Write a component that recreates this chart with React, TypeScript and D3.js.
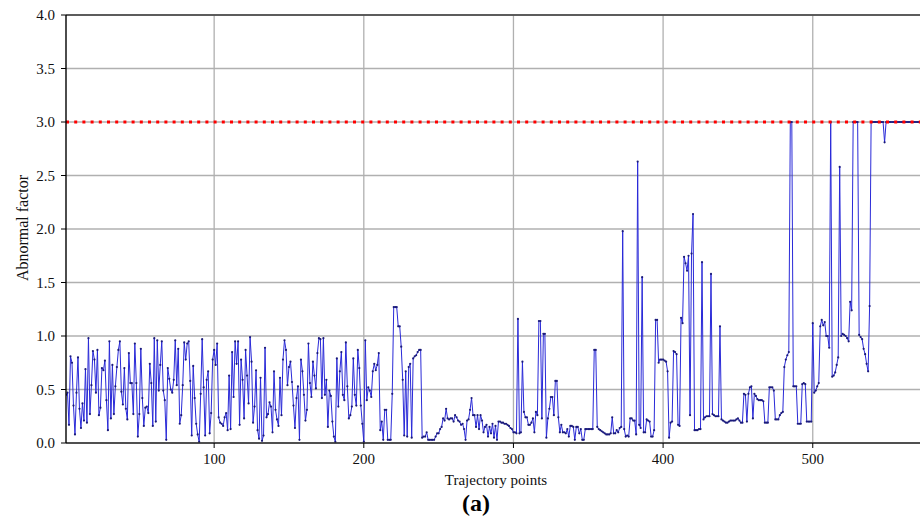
import React from 'react';
import { scaleLinear, line } from 'd3';

// abnormal factor per trajectory point
const earlyFactors = [
  0.45, 0.47, 0.17, 0.81, 0.75, 0.35, 0.08, 0.47, 0.8, 0.32,
  0.14, 0.37, 0.21, 0.69, 0.19, 0.98, 0.27, 0.54, 0.86, 0.78,
  0.47, 0.87, 0.26, 0.33, 0.7, 0.68, 0.77, 0.4, 0.12, 0.95,
  0.23, 0.73, 0.27, 0.53, 0.71, 0.87, 0.95, 0.48, 0.36, 0.7,
  0.32, 0.22, 0.84, 0.56, 0.56, 0.27, 0.93, 0.56, 0.06, 0.27,
  0.88, 0.42, 0.16, 0.33, 0.34, 0.28, 0.74, 0.56, 0.16, 0.98,
  0.2, 0.96, 0.49, 0.73, 0.95, 0.49, 0.4, 0.03, 0.7, 0.6,
  0.5, 0.47, 0.59, 0.96, 0.54, 0.88, 0.18, 0.26, 0.54, 0.94,
  0.78, 0.93, 0.95, 0.58, 0.07, 0.72, 0.42, 0.18, 0.08, 0.01,
  0.46, 0.97, 0.52, 0.07, 0.59, 0.67, 0.09, 0.28, 0.78, 0.87,
  0.73, 0.93, 0.24, 0.19, 0.18, 0.16, 0.24, 0.28, 0.12, 0.63,
  0.13, 0.85, 0.43, 0.95, 0.74, 0.95, 0.17, 0.78, 0.59, 0.23,
  0.87, 0.63, 0.37, 0.99, 0.76, 0.19, 0.34, 0.68, 0.12, 0.04,
  0.61, 0.02, 0.07, 0.89, 0.24, 0.27, 0.38, 0.34, 0.1, 0.67,
  0.31, 0.22, 0.16, 0.61, 0.26, 0.78, 0.96, 0.87, 0.54, 0.71,
  0.76, 0.57, 0.35, 0.14, 0.42, 0.53, 0.03, 0.78, 0.67, 0.45,
  0.21, 0.31, 0.93, 0.56, 0.43, 0.76, 0.63, 0.51, 0.84, 0.98,
];

const middleFactors = [
  0.97, 0.42, 0.98, 0.45, 0.59, 0.15, 0.49, 0.44, 0.2, 0.06,
  0.01, 0.79, 0.34, 0.67, 0.85, 0.45, 0.4, 0.94, 0.53, 0.23,
  0.26, 0.34, 0.79, 0.45, 0.35, 0.87, 0.7, 0.35, 0.18, 0.01,
  0.96, 0.4, 0.52, 0.49, 0.43, 0.67, 0.74, 0.68, 0.73, 0.84,
  0.12, 0.2, 0.03, 0.31, 0.31, 0.03, 0.03, 0.03, 0.46, 1.27,
  1.27, 1.27, 1.09, 1.09, 0.9, 0.59, 0.07, 0.67, 0.06, 0.71,
  0.74, 0.05, 0.79, 0.81, 0.82, 0.85, 0.87, 0.87, 0.05, 0.06,
  0.06, 0.1, 0.03, 0.03, 0.03, 0.03, 0.03, 0.06, 0.09, 0.09,
  0.13, 0.15, 0.23, 0.21, 0.32, 0.23, 0.22, 0.23, 0.23, 0.2,
  0.26, 0.24, 0.21, 0.2, 0.17, 0.18, 0.13, 0.03, 0.21, 0.22,
  0.31, 0.42, 0.26, 0.26, 0.15, 0.26, 0.13, 0.26, 0.21, 0.1,
  0.15, 0.17, 0.06, 0.15, 0.09, 0.18, 0.05, 0.16, 0.03, 0.2,
  0.2, 0.19, 0.19, 0.18, 0.18, 0.17, 0.16, 0.14, 0.13, 0.1,
  0.1, 0.09, 1.16, 0.09, 0.1, 0.76, 0.29, 0.24, 0.24, 0.17,
  0.17, 0.19, 0.23, 0.1, 0.29, 0.26, 1.14, 1.14, 0.23, 1.02,
  1.02, 0.05, 0.23, 0.32, 0.43, 0.43, 0.26, 0.58, 0.58, 0.24,
  0.1, 0.17, 0.1, 0.1, 0.09, 0.13, 0.06, 0.16, 0.16, 0.15,
  0.03, 0.15, 0.15, 0.09, 0.13, 0.03, 0.03, 0.13, 0.13, 0.13,
  0.13, 0.13, 0.13, 0.87, 0.87, 0.15, 0.13, 0.12, 0.11, 0.1,
  0.09, 0.08, 0.08, 0.08, 0.09, 0.24, 0.09, 0.09, 0.12, 0.1,
];

const lateFactors = [
  0.14, 0.15, 1.98, 0.13, 0.06, 0.07, 0.06, 0.23, 0.23, 0.21,
  0.21, 0.08, 2.63, 0.17, 0.14, 1.55, 0.1, 0.1, 0.22, 0.21,
  0.2, 0.06, 0.06, 0.12, 1.15, 1.15, 0.75, 0.78, 0.78, 0.78,
  0.77, 0.76, 0.67, 0.05, 0.19, 0.2, 0.86, 0.85, 0.83, 0.17,
  0.16, 1.17, 1.12, 1.74, 1.68, 1.61, 1.75, 0.26, 1.77, 2.14,
  0.12, 0.12, 0.12, 0.13, 0.13, 1.69, 0.22, 0.24, 0.25, 0.25,
  0.25, 1.58, 0.27, 0.26, 0.25, 0.25, 0.25, 1.09, 0.22, 0.21,
  0.2, 0.19, 0.19, 0.2, 0.21, 0.21, 0.21, 0.21, 0.22, 0.23,
  0.21, 0.19, 0.19, 0.46, 0.45, 0.2, 0.46, 0.52, 0.53, 0.23,
  0.46, 0.44, 0.41, 0.4, 0.4, 0.4, 0.39, 0.19, 0.19, 0.19,
  0.52, 0.52, 0.52, 0.49, 0.22, 0.22, 0.22, 0.26, 0.28, 0.29,
  0.71, 0.78, 0.82, 0.85, 3.0, 3.0, 0.53, 0.53, 0.53, 0.18,
  0.18, 0.18, 0.55, 0.56, 0.55, 0.2, 0.2, 0.2, 0.2, 1.12,
  0.47, 0.49, 0.53, 0.56, 1.09, 1.15, 1.1, 1.13, 1.0, 1.0,
  0.89, 3.0, 0.62, 0.63, 0.66, 0.73, 0.8, 2.58, 1.0, 1.02,
  1.01, 1.0, 0.98, 0.95, 1.32, 1.24, 3.0, 3.0, 3.0, 3.0,
  1.01, 0.99, 0.97, 0.88, 0.83, 0.74, 0.67, 1.28, 3.0, 3.0,
  3.0, 3.0, 3.0, 3.0, 3.0, 3.0, 3.0, 2.81, 3.0, 3.0,
  3.0, 3.0, 3.0, 3.0, 3.0, 3.0, 3.0, 3.0, 3.0, 3.0,
  3.0, 3.0, 3.0, 3.0, 3.0, 3.0, 3.0, 3.0, 3.0, 3.0, 3.0, 3.0,
];

const abnormalFactors = [...earlyFactors, ...middleFactors, ...lateFactors];
const xTicks = [100, 200, 300, 400, 500];
const yTicks = [0, 0.5, 1, 1.5, 2, 2.5, 3, 3.5, 4];
const threshold = 3.0;

const width = 920;
const height = 527;
const plot = { left: 66, right: 920.5, top: 15, bottom: 443 };
const serif = "'Liberation Serif', 'Times New Roman', serif";

const App = () => {
  const x = scaleLinear().domain([1, 572]).range([plot.left, plot.right]);
  const y = scaleLinear().domain([0, 4]).range([plot.bottom, plot.top]);
  const points = abnormalFactors.map((v, i) => [i + 1, v] as [number, number]);
  const factorLine = line<[number, number]>()
    .x((d) => x(d[0]))
    .y((d) => y(d[1]))(points);

  return (
    <svg
      width={width}
      height={height}
      style={{ position: 'absolute', left: 0, top: 0, background: '#fff' }}
    >
      <defs>
        <clipPath id='plotArea'>
          <rect x={plot.left} y={plot.top - 2} width={plot.right - plot.left} height={plot.bottom - plot.top + 4} />
        </clipPath>
      </defs>

      {/* grid */}
      {yTicks.map((t) => (
        <line key={'gy' + t} x1={plot.left} x2={width} y1={y(t)} y2={y(t)} stroke='#b0b0b0' strokeWidth={1.3} />
      ))}
      {xTicks.map((t) => (
        <line key={'gx' + t} x1={x(t)} x2={x(t)} y1={plot.top} y2={plot.bottom} stroke='#b0b0b0' strokeWidth={1.3} />
      ))}

      {/* data */}
      <g clipPath='url(#plotArea)'>
        <path d={factorLine || ''} fill='none' stroke='#2a2ad8' strokeWidth={1} strokeLinejoin='round' />
        {points.map((d, i) => (
          <circle key={i} cx={x(d[0])} cy={y(d[1])} r={1.1} fill='#1b1b7a' />
        ))}
        <line
          x1={plot.left}
          x2={width}
          y1={y(threshold)}
          y2={y(threshold)}
          stroke='#ff0000'
          strokeWidth={3}
          strokeDasharray='3 5.2'
        />
      </g>

      {/* spines */}
      <line x1={plot.left} x2={width} y1={plot.top} y2={plot.top} stroke='#3a3a3a' strokeWidth={1.6} />
      <line x1={plot.left} x2={width} y1={plot.bottom} y2={plot.bottom} stroke='#2a2a2a' strokeWidth={1.6} />
      <line x1={plot.left} x2={plot.left} y1={plot.top} y2={plot.bottom} stroke='#000' strokeWidth={1.4} />

      {/* y ticks */}
      {yTicks.map((t) => (
        <g key={'ty' + t}>
          <line x1={plot.left - 5} x2={plot.left} y1={y(t)} y2={y(t)} stroke='#000' strokeWidth={1} />
          <text x={55} y={y(t)} dy='0.35em' textAnchor='end' fontFamily={serif} fontSize={15} fill='#111'>
            {t.toFixed(1)}
          </text>
        </g>
      ))}

      {/* x ticks */}
      {xTicks.map((t) => (
        <g key={'tx' + t}>
          <line x1={x(t)} x2={x(t)} y1={plot.bottom} y2={plot.bottom + 5} stroke='#000' strokeWidth={1} />
          <text x={x(t)} y={464} textAnchor='middle' fontFamily={serif} fontSize={15} fill='#111'>
            {t}
          </text>
        </g>
      ))}

      <text
        transform='translate(28, 228) rotate(-90)'
        textAnchor='middle'
        fontFamily={serif}
        fontSize={16}
        fill='#111'
      >
        Abnormal factor
      </text>
      <text x={496} y={485} textAnchor='middle' fontFamily={serif} fontSize={15} fill='#111'>
        Trajectory points
      </text>
      <text x={476} y={511} textAnchor='middle' fontFamily={serif} fontSize={24} fontWeight='bold' fill='#000'>
        (a)
      </text>
    </svg>
  );
};

export default App;
